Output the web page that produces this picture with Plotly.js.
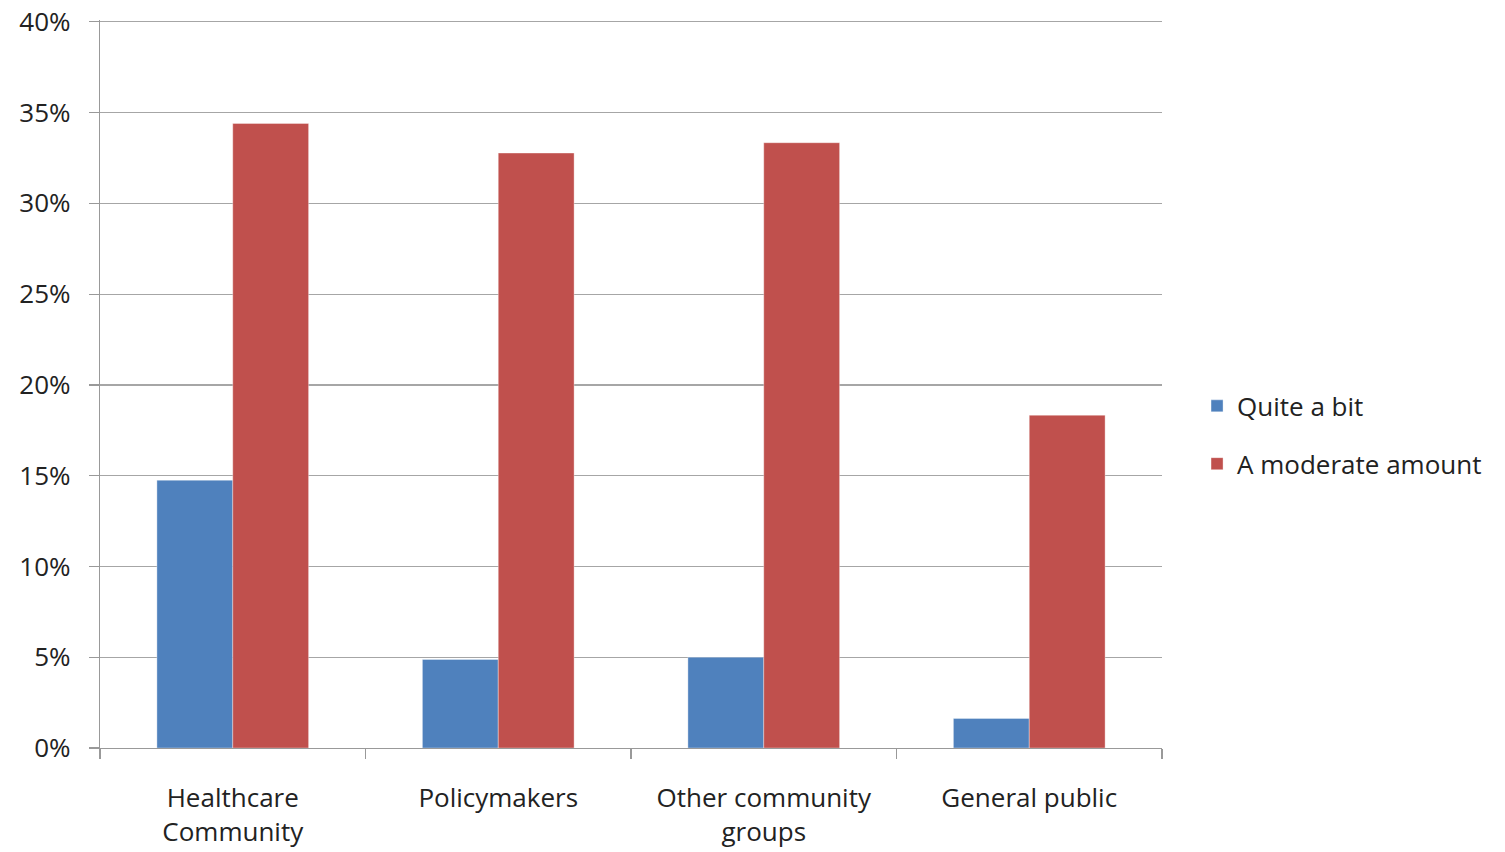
<!DOCTYPE html>
<html>
<head>
<meta charset="utf-8">
<script src="https://cdn.plot.ly/plotly-3.0.1.min.js"></script>
<style>
  html, body { margin: 0; padding: 0; background: #fff; }
  #chart { width: 1505px; height: 852px; }
</style>
</head>
<body>
<div id="chart"></div>
<script>
const categories = ["Healthcare<br>Community", "Policymakers", "Other community<br>groups", "General public"];
const seriesNames = ["Quite a bit", "A moderate amount"];
const quiteABit = [14.75, 4.88, 5.0, 1.63];
const moderateAmount = [34.4, 32.77, 33.34, 18.33];
const seriesColors = ["#4F81BD", "#C0504D"];
const yTickValues = [0, 5, 10, 15, 20, 25, 30, 35, 40];

const fontFamily = "'Open Sans', Lato, 'DejaVu Sans', sans-serif";
const fontSize = 26;

const traces = [quiteABit, moderateAmount].map((vals, i) => ({
  type: "bar",
  name: seriesNames[i],
  x: categories,
  y: vals,
  legendgroup: "g" + i,
  marker: { color: seriesColors[i], line: { color: "rgba(255,255,255,0.35)", width: 1 } },
  hoverinfo: "x+y+name"
}));

const layout = {
  width: 1505,
  height: 852,
  margin: { l: 100, r: 343, t: 20, b: 104 },
  paper_bgcolor: "#ffffff",
  plot_bgcolor: "#ffffff",
  barmode: "group",
  bargap: 0.4286,
  bargroupgap: 0,
  font: { family: fontFamily, size: fontSize, color: "#222222" },
  showlegend: true,
  legend: {
    x: 1.033, xanchor: "left",
    y: 0.43, yanchor: "middle",
    traceorder: "grouped",
    tracegroupgap: 21,
    font: { family: fontFamily, size: fontSize, color: "#222222" },
    bgcolor: "rgba(0,0,0,0)",
    borderwidth: 0
  },
  xaxis: {
    type: "category",
    showgrid: false,
    showline: true,
    linecolor: "#999999",
    linewidth: 1.2,
    ticks: "outside",
    tickson: "boundaries",
    ticklen: 10,
    tickcolor: "#999999",
    tickwidth: 1.2,
    ticklabelstandoff: 27,
    tickfont: { family: fontFamily, size: fontSize, color: "#222222" },
    fixedrange: true
  },
  yaxis: {
    range: [0, 40.1],
    tickvals: yTickValues,
    ticktext: yTickValues.map(v => v + "%"),
    showgrid: true,
    gridcolor: "#A6A6A6",
    gridwidth: 1.2,
    zeroline: false,
    showline: true,
    linecolor: "#999999",
    linewidth: 1.2,
    ticks: "outside",
    ticklen: 10,
    tickcolor: "#999999",
    tickwidth: 1.2,
    ticklabelstandoff: 13,
    tickfont: { family: fontFamily, size: fontSize, color: "#222222" },
    fixedrange: true
  }
};

Plotly.newPlot("chart", traces, layout, { displayModeBar: false, staticPlot: true });
</script>
</body>
</html>
